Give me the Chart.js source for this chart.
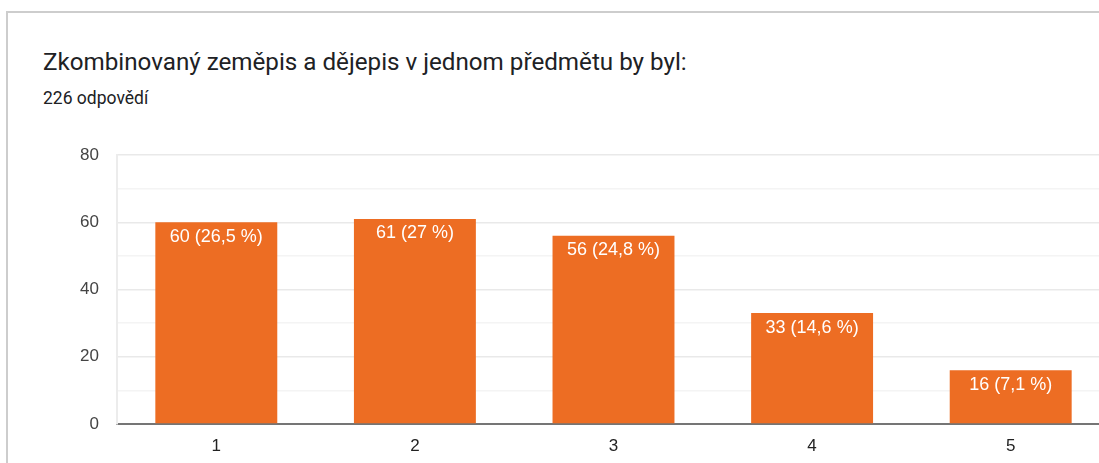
<!DOCTYPE html>
<html>
<head>
<meta charset="utf-8">
<script src="https://cdn.jsdelivr.net/npm/chart.js@4/dist/chart.umd.min.js"></script>
<style>
  html, body { margin: 0; padding: 0; width: 1099px; height: 463px; overflow: hidden; background: #fff; }
  .card { position: absolute; left: 6px; top: 11px; width: 1200px; height: 600px; border: 2px solid #cdcdcd; box-sizing: border-box; }
  .title { position: absolute; left: 43px; top: 48px; font-family: Roboto, sans-serif; font-size: 24.2px; color: #202124; white-space: nowrap; }
  .sub { position: absolute; left: 43px; top: 88px; font-family: Roboto, sans-serif; font-size: 17.5px; color: #202124; white-space: nowrap; }
  #c { position: absolute; left: 0; top: 0; }
</style>
</head>
<body>
<div class="card"></div>
<div class="title">Zkombinovaný zeměpis a dějepis v jednom předmětu by byl:</div>
<div class="sub">226 odpovědí</div>
<canvas id="c" width="1110" height="463"></canvas>
<script>
const categories = ['1', '2', '3', '4', '5'];
const counts = [60, 61, 56, 33, 16];
const totalResponses = 226;
const yTicks = [0, 20, 40, 60, 80];

function percentLabel(v) {
  const p = (v / totalResponses * 100).toFixed(1).replace(/\.0$/, '').replace('.', ',');
  return v + ' (' + p + ' %)';
}

// Writes "count (share %)" inside the top of each bar
const barLabels = {
  id: 'barLabels',
  afterDatasetsDraw(chart) {
    const ctx = chart.ctx;
    const meta = chart.getDatasetMeta(0);
    ctx.save();
    ctx.font = '18px "Liberation Sans", Arial, sans-serif';
    ctx.fillStyle = '#ffffff';
    ctx.textAlign = 'center';
    ctx.textBaseline = 'middle';
    meta.data.forEach((bar, i) => {
      ctx.fillText(percentLabel(counts[i]), bar.x, bar.y + 14.5);
    });
    ctx.restore();
  }
};

new Chart(document.getElementById('c'), {
  type: 'bar',
  data: {
    labels: categories,
    datasets: [{
      data: counts,
      backgroundColor: '#ed6d23',
      borderWidth: 0,
      barPercentage: 0.614,
      categoryPercentage: 1
    }]
  },
  options: {
    responsive: false,
    animation: false,
    events: [],
    layout: { padding: { top: 155, left: 0, right: 0, bottom: 0 } },
    plugins: { legend: { display: false }, tooltip: { enabled: false } },
    scales: {
      x: {
        grid: { display: false, drawTicks: false },
        border: { display: true, color: '#757575', width: 2 },
        ticks: { color: '#222222', padding: 12, font: { family: '"Liberation Sans", Arial, sans-serif', size: 17 } },
        afterFit(scale) { scale.height = 39; }
      },
      y: {
        min: 0,
        max: 80,
        grid: {
          drawTicks: false,
          color: (c) => c.tick && c.tick.value === 0 ? 'rgba(0,0,0,0)' : (yTicks.includes(c.tick.value) ? '#e9e9e9' : '#f4f4f4'),
          lineWidth: 1.5
        },
        border: { display: true, color: '#ececec', width: 2 },
        ticks: {
          stepSize: 10,
          padding: 18,
          color: '#444444',
          font: { family: '"Liberation Sans", Arial, sans-serif', size: 17 },
          callback: (v) => yTicks.includes(v) ? String(v) : ''
        },
        afterFit(scale) { scale.width = 117; }
      }
    }
  },
  plugins: [barLabels]
});
</script>
</body>
</html>
